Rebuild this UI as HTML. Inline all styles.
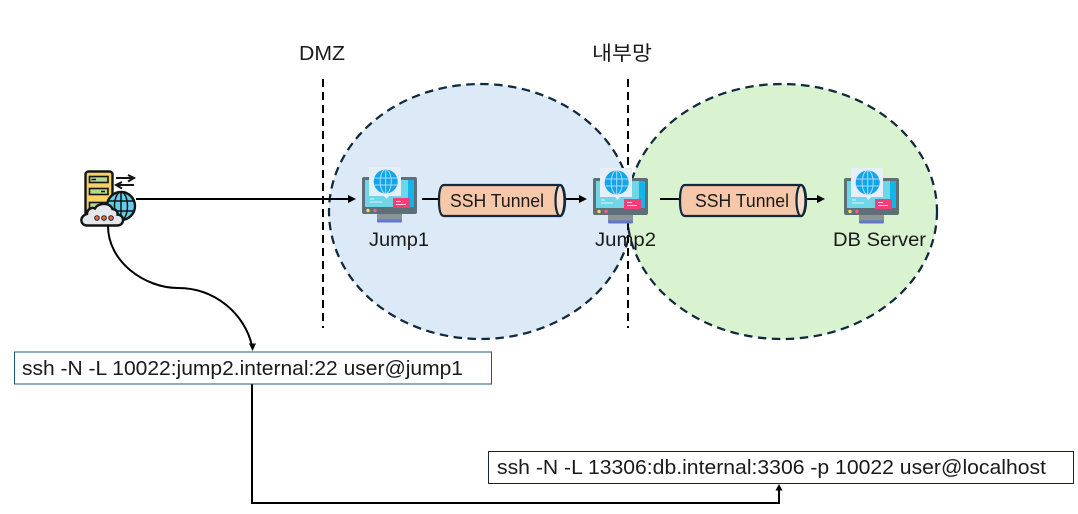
<!DOCTYPE html>
<html>
<head>
<meta charset="utf-8">
<style>
html,body{margin:0;padding:0;background:#fff;width:1078px;height:514px;overflow:hidden}
svg{display:block}
text{font-family:"Liberation Sans","Noto Sans CJK KR",sans-serif;fill:#1a1a1a;font-size:20px}
</style>
</head>
<body>
<svg width="1078" height="514" viewBox="0 0 1078 514" xmlns="http://www.w3.org/2000/svg">
<defs>
<g id="mon">
  <rect x="0" y="10" width="55" height="37" rx="2" fill="#5f6f78"/>
  <rect x="3" y="13" width="49" height="27" fill="#6fd6e8"/>
  <rect x="46" y="13" width="6" height="27" fill="#12b5ea"/>
  <rect x="15" y="47" width="25" height="6" fill="#8a9398"/>
  <rect x="15" y="52.500" width="25" height="3" rx="1" fill="#6275d0"/>
  <circle cx="6" cy="43.500" r="1.700" fill="#f6d860"/>
  <circle cx="13" cy="43.500" r="1.700" fill="#f0608c"/>
  <path d="M7 0H39V29H27L24.500 32L22 29H7Z" fill="#e6eef8"/>
  <circle cx="23.700" cy="14.500" r="12" fill="#12a5ea"/>
  <g fill="none" stroke="#a8dcf6" stroke-width="1">
    <ellipse cx="23.700" cy="14.500" rx="5.500" ry="12"/>
    <path d="M23.700 2.500V26.500M12.500 11H35M12.500 18H35"/>
  </g>
  <rect x="31" y="31" width="17" height="10" fill="#f53d79"/>
  <path d="M34 34.500H39M34 37.500H44" stroke="#fff" stroke-width=".8"/>
  <path d="M8 32H12M8 35H20" stroke="#fff" stroke-width=".8"/>
</g>
<g id="cyl">
  <path d="M6 1H122C125 1 127 8 127 16.500C127 25 125 32 122 32H6C2 32 1 25 1 16.500C1 8 2 1 6 1Z" fill="#f7c7a9" stroke="#0e2a3c" stroke-width="2.250"/>
  <ellipse cx="122" cy="16.500" rx="4.500" ry="15.500" fill="#fbdcc9" stroke="#0e2a3c" stroke-width="2.250"/>
</g>
</defs>

<ellipse cx="480.500" cy="211.500" rx="151.500" ry="127.500" fill="#dce9f7" stroke="#10293c" stroke-width="2.250" stroke-dasharray="8.500 5.500"/>
<ellipse cx="782" cy="211.500" rx="155" ry="127.500" fill="#d9f3d0" stroke="#10293c" stroke-width="2.250" stroke-dasharray="8.500 5.500"/>

<path d="M323 79V328M628 79V328" stroke="#000" stroke-width="2" stroke-dasharray="8 5" fill="none"/>

<text x="299" y="60" textLength="46" lengthAdjust="spacingAndGlyphs">DMZ</text>
<text x="592" y="60" textLength="60" lengthAdjust="spacingAndGlyphs">내부망</text>

<!-- server icon -->
<g>
  <rect x="85.500" y="171.500" width="27" height="46" rx="3" fill="#f6d365" stroke="#141414" stroke-width="2.400"/>
  <rect x="89.500" y="176.500" width="18.500" height="6" fill="#b5d98a" stroke="#141414" stroke-width="1.600"/>
  <rect x="89.500" y="188.500" width="18.500" height="6" fill="#b5d98a" stroke="#141414" stroke-width="1.600"/>
  <rect x="89.500" y="202.500" width="18.500" height="6" fill="#b5d98a" stroke="#141414" stroke-width="1.600"/>
  <path d="M91.500 179.500H96M101 191.500H105" stroke="#141414" stroke-width="1.600"/>
  <circle cx="121" cy="206" r="14" fill="#62cdf0" stroke="#141414" stroke-width="2.400"/>
  <ellipse cx="121" cy="206" rx="6.500" ry="14" fill="none" stroke="#141414" stroke-width="1.500"/>
  <path d="M121 192V220M108 201H134M108 211H134" stroke="#141414" stroke-width="1.500"/>
  <path d="M116 178H133M128 175L134 178L128 181.500M134 185H117M122 182L116 185L122 188.500" fill="none" stroke="#141414" stroke-width="2"/>
  <path d="M87 225.500C80 225.500 79 216 87 214C87 209 92 207 95 208.500C98 202.500 110 202 112.500 209C116 209 118 212 117.500 214.500C125 215 125 225.500 117 225.500Z" fill="#e4e7ec" stroke="#141414" stroke-width="2.400"/>
  <circle cx="97" cy="218" r="2.300" fill="#e8694a" stroke="#141414" stroke-width=".9"/>
  <circle cx="104" cy="218" r="2.300" fill="#e8694a" stroke="#141414" stroke-width=".9"/>
  <circle cx="111" cy="218" r="2.300" fill="#e8694a" stroke="#141414" stroke-width=".9"/>
</g>

<use href="#mon" x="362" y="167"/>
<use href="#mon" x="593" y="168"/>
<use href="#mon" x="844" y="168"/>

<!-- connectors -->
<g fill="none" stroke="#000" stroke-width="2">
  <path d="M136 199H349"/>
  <path d="M422 199H438"/>
  <path d="M566 199H580"/>
  <path d="M660 199H679"/>
  <path d="M806 199H818"/>
  <path d="M108 226C108 262 145 288 178 288C215 288 245 314 252 346"/>
  <path d="M252 384V503H779V489"/>
</g>
<g fill="#000">
  <path d="M356 199L348 195V203Z"/>
  <path d="M587 199L579 195V203Z"/>
  <path d="M825 199L817 195V203Z"/>
  <path d="M252.500 351L249 343.500H256Z"/>
  <path d="M779 484L775.500 490.500H782.500Z"/>
</g>

<use href="#cyl" x="438" y="184"/>
<use href="#cyl" x="679" y="184"/>
<text x="450" y="207" style="font-size:18px" textLength="94" lengthAdjust="spacingAndGlyphs">SSH Tunnel</text>
<text x="695" y="207" style="font-size:18px" textLength="94" lengthAdjust="spacingAndGlyphs">SSH Tunnel</text>

<text x="369" y="246" style="font-size:19px" textLength="60" lengthAdjust="spacingAndGlyphs">Jump1</text>
<text x="595" y="246" style="font-size:19px" textLength="61" lengthAdjust="spacingAndGlyphs">Jump2</text>
<text x="833" y="246" style="font-size:19px" textLength="93" lengthAdjust="spacingAndGlyphs">DB Server</text>

<rect x="14.500" y="352" width="477" height="32" fill="#fff" stroke="#1b5b7c" stroke-width="1"/>
<text x="22" y="375" textLength="441" lengthAdjust="spacingAndGlyphs">ssh -N -L 10022:jump2.internal:22 user@jump1</text>

<rect x="488.500" y="451.500" width="585" height="32" fill="#fff" stroke="#10293c" stroke-width="1"/>
<text x="497" y="474" textLength="549" lengthAdjust="spacingAndGlyphs">ssh -N -L 13306:db.internal:3306 -p 10022 user@localhost</text>
</svg>
</body>
</html>
